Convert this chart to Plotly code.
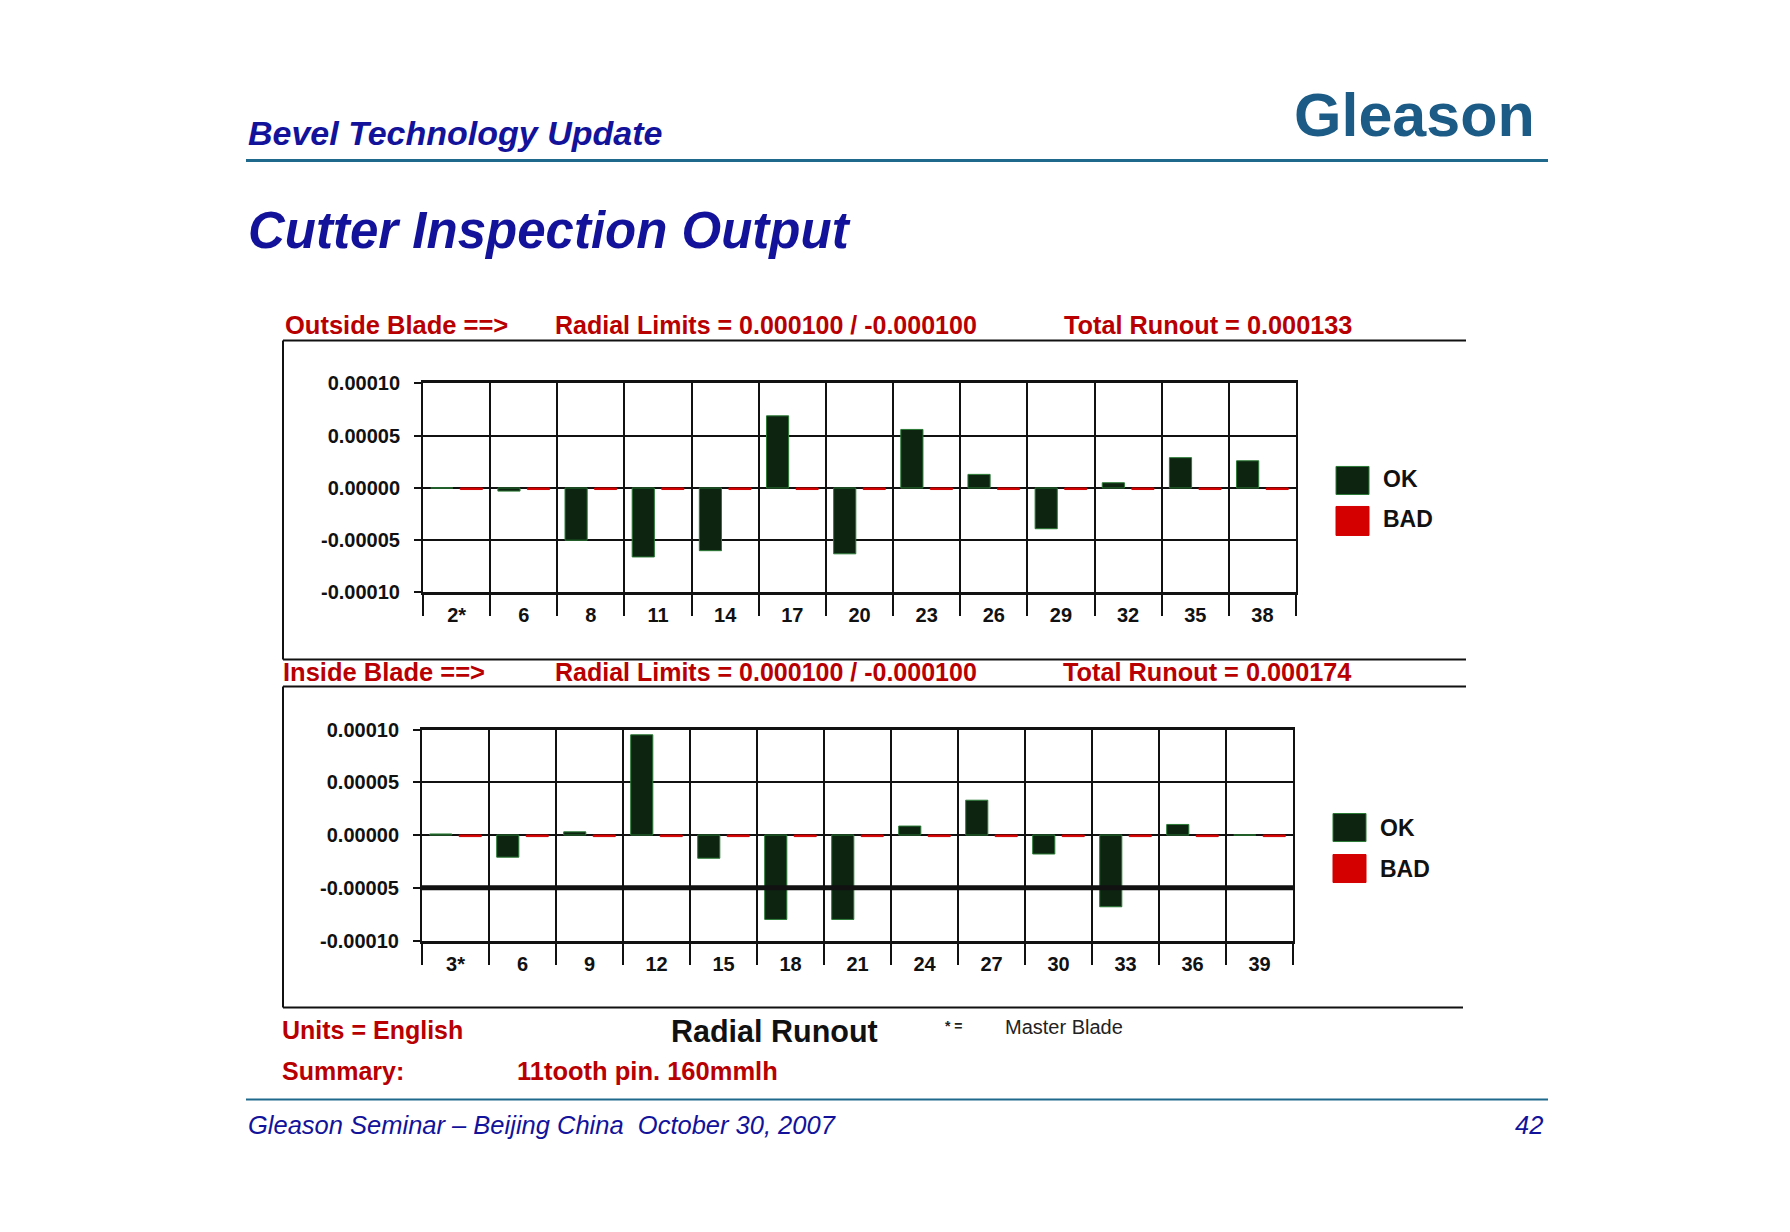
import plotly.graph_objects as go

W, H = 1790, 1232

# ---------------- data ----------------
outside_labels = ["2*", "6", "8", "11", "14", "17", "20", "23", "26", "29", "32", "35", "38"]
outside_ok = [0.0, -0.000003, -0.000050, -0.000066, -0.000060, 0.000069, -0.000063,
              0.000056, 0.000013, -0.000039, 0.000005, 0.000029, 0.000026]
outside_bad = [-0.0000015, -0.0000015, -0.0000015, -0.0000015, -0.0000015, -0.0000015, -0.0000015,
               -0.0000015, -0.0000015, -0.0000015, -0.0000015, -0.0000015, -0.0000015]

inside_labels = ["3*", "6", "9", "12", "15", "18", "21", "24", "27", "30", "33", "36", "39"]
inside_ok = [0.000001, -0.000021, 0.000003, 0.000095, -0.000022, -0.000080, -0.000080,
             0.0000085, 0.000033, -0.000018, -0.000068, 0.000010, 0.0]
inside_bad = [-0.0000015, -0.0000015, -0.0000015, -0.0000015, -0.0000015, -0.0000015, -0.0000015,
              -0.0000015, -0.0000015, -0.0000015, -0.0000015, -0.0000015, -0.0000015]

y_tickvals = [0.0001, 0.00005, 0.0, -0.00005, -0.0001]
y_ticktext = ["0.00010", "0.00005", "0.00000", "-0.00005", "-0.00010"]

# ---------------- helpers ----------------
# vertical calibration of the captured page (screen y = 10.6 + 0.982 * layout y)
CAL_A, CAL_B = 10.6, 0.982

def px(x):
    return x / W

def py(y):
    return 1 - ((y - CAL_A) / CAL_B) / H

OK_FILL = "#0c2410"
OK_LINE = "#2a7a35"
BAD_FILL = "#d40000"
RED_TXT = "#b80000"
NAVY = "#12129a"
TEAL = "#1f6a8c"
FONT = "Liberation Sans, Arial, sans-serif"

fig = go.Figure()

fig.add_trace(go.Bar(x=outside_labels, y=outside_ok, name="OK", xaxis="x", yaxis="y",
                     marker=dict(color=OK_FILL, line=dict(color=OK_LINE, width=1)), showlegend=False))
fig.add_trace(go.Bar(x=outside_labels, y=outside_bad, name="BAD", xaxis="x", yaxis="y",
                     marker=dict(color=BAD_FILL, line=dict(color=BAD_FILL, width=1)), showlegend=False))
fig.add_trace(go.Bar(x=inside_labels, y=inside_ok, name="OK", xaxis="x2", yaxis="y2",
                     marker=dict(color=OK_FILL, line=dict(color=OK_LINE, width=1)), showlegend=False))
fig.add_trace(go.Bar(x=inside_labels, y=inside_bad, name="BAD", xaxis="x2", yaxis="y2",
                     marker=dict(color=BAD_FILL, line=dict(color=BAD_FILL, width=1)), showlegend=False))

tickfont = dict(family=FONT, size=20, color="#111111", weight="bold")

def xaxis_cfg(domain, anchor):
    return dict(domain=domain, anchor=anchor, type="category", range=[-0.5, 12.5],
                tickson="boundaries", ticks="outside", ticklen=21, tickwidth=2, tickcolor="#111",
                showgrid=True, gridcolor="#111", gridwidth=2,
                showline=True, linecolor="#111", linewidth=3, mirror=True,
                tickfont=tickfont, ticklabelstandoff=3, fixedrange=True)

def yaxis_cfg(domain, anchor):
    return dict(domain=domain, anchor=anchor, range=[-0.0001, 0.0001],
                tickvals=y_tickvals, ticktext=y_ticktext,
                ticks="outside", ticklen=7, tickwidth=2, tickcolor="#111",
                showgrid=True, gridcolor="#111", gridwidth=2,
                zeroline=True, zerolinecolor="#111", zerolinewidth=2,
                showline=True, linecolor="#111", linewidth=2, mirror=True,
                tickfont=tickfont, ticklabelstandoff=10, fixedrange=True)

fig.update_layout(
    width=W, height=H,
    margin=dict(l=0, r=0, t=0, b=0),
    paper_bgcolor="white", plot_bgcolor="white",
    barmode="group", bargap=0.12, bargroupgap=0.25,
    xaxis=xaxis_cfg([px(423), px(1296)], "y"),
    yaxis=yaxis_cfg([py(592), py(383)], "x"),
    xaxis2=xaxis_cfg([px(422), px(1293)], "y2"),
    yaxis2=yaxis_cfg([py(940), py(729)], "x2"),
)

shapes = []
def hline(x0, x1, y, color="#111", width=2):
    shapes.append(dict(type="line", xref="paper", yref="paper", x0=px(x0), x1=px(x1),
                       y0=py(y), y1=py(y), line=dict(color=color, width=width)))

def vline(x, y0, y1, color="#111", width=2):
    shapes.append(dict(type="line", xref="paper", yref="paper", x0=px(x), x1=px(x),
                       y0=py(y0), y1=py(y1), line=dict(color=color, width=width)))

def rect(x0, y0, x1, y1, fill, line):
    shapes.append(dict(type="rect", xref="paper", yref="paper", x0=px(x0), x1=px(x1),
                       y0=py(y1), y1=py(y0), fillcolor=fill, line=dict(color=line, width=1)))

# page header / footer rules
hline(246, 1548, 160, TEAL, 3)
hline(246, 1548, 1099, TEAL, 2)

# chart frames
hline(283, 1466, 340)
vline(283, 340, 659)
hline(283, 1466, 659)
hline(283, 1466, 686)
vline(283, 686, 1007)
hline(283, 1463, 1007)

# heavy line at -0.00005 in inside chart
shapes.append(dict(type="line", xref="x2 domain", yref="y2", x0=0, x1=1, y0=-0.00005, y1=-0.00005,
                   line=dict(color="#111", width=5)))

# legend swatches
rect(1336, 466, 1369, 494, OK_FILL, OK_LINE)
rect(1336, 506, 1369, 535, BAD_FILL, BAD_FILL)
rect(1333, 813, 1366, 841, OK_FILL, OK_LINE)
rect(1333, 854, 1366, 882, BAD_FILL, BAD_FILL)

fig.update_layout(shapes=shapes)

ann = []
def text(x, y, s, size, color, bold=True, italic=False, anchor="left", family=FONT):
    ann.append(dict(xref="paper", yref="paper", x=px(x), y=py(y), text=s, showarrow=False,
                    xanchor=anchor, yanchor="middle",
                    font=dict(family=family, size=size, color=color,
                              weight="bold" if bold else "normal",
                              style="italic" if italic else "normal")))

text(246, 133, "Bevel Technology Update", 34, NAVY, True, True)
text(246, 230, "Cutter Inspection Output", 51, NAVY, True, True)
text(1537, 115, "Gleason", 61, "#1b5b86", True, False, anchor="right")

text(283, 325, "Outside Blade ==>", 25.5, RED_TXT)
text(553, 325, "Radial Limits = 0.000100 / -0.000100", 25, RED_TXT)
text(1062, 325, "Total Runout = 0.000133", 25.3, RED_TXT)
text(281, 672, "Inside Blade ==>", 25.5, RED_TXT)
text(553, 672, "Radial Limits = 0.000100 / -0.000100", 25, RED_TXT)
text(1061, 672, "Total Runout = 0.000174", 25.3, RED_TXT)

text(1381, 479, "OK", 23, "#111")
text(1381, 519, "BAD", 23, "#111")
text(1378, 827, "OK", 23, "#111")
text(1378, 868, "BAD", 23, "#111")

text(280, 1029, "Units = English", 25, RED_TXT)
text(669, 1030, "Radial Runout", 30.5, "#111")
text(943, 1025, "* =", 14, "#222")
text(1003, 1026, "Master Blade", 20, "#222", False)
text(280, 1070, "Summary:", 25, RED_TXT)
text(515, 1070, "11tooth pin. 160mmlh", 25.5, RED_TXT)

text(246, 1124, "Gleason Seminar \u2013 Beijing China\u00a0 October 30, 2007", 25.5, NAVY, False, True)
text(1545, 1124, "42", 25.5, NAVY, False, True, anchor="right")

fig.update_layout(annotations=ann)

fig.write_html(
    "out.html",
    config={"displayModeBar": False},
    post_script="document.body.style.margin='0';document.body.style.overflow='hidden';"
                "document.documentElement.style.overflow='hidden';",
)
